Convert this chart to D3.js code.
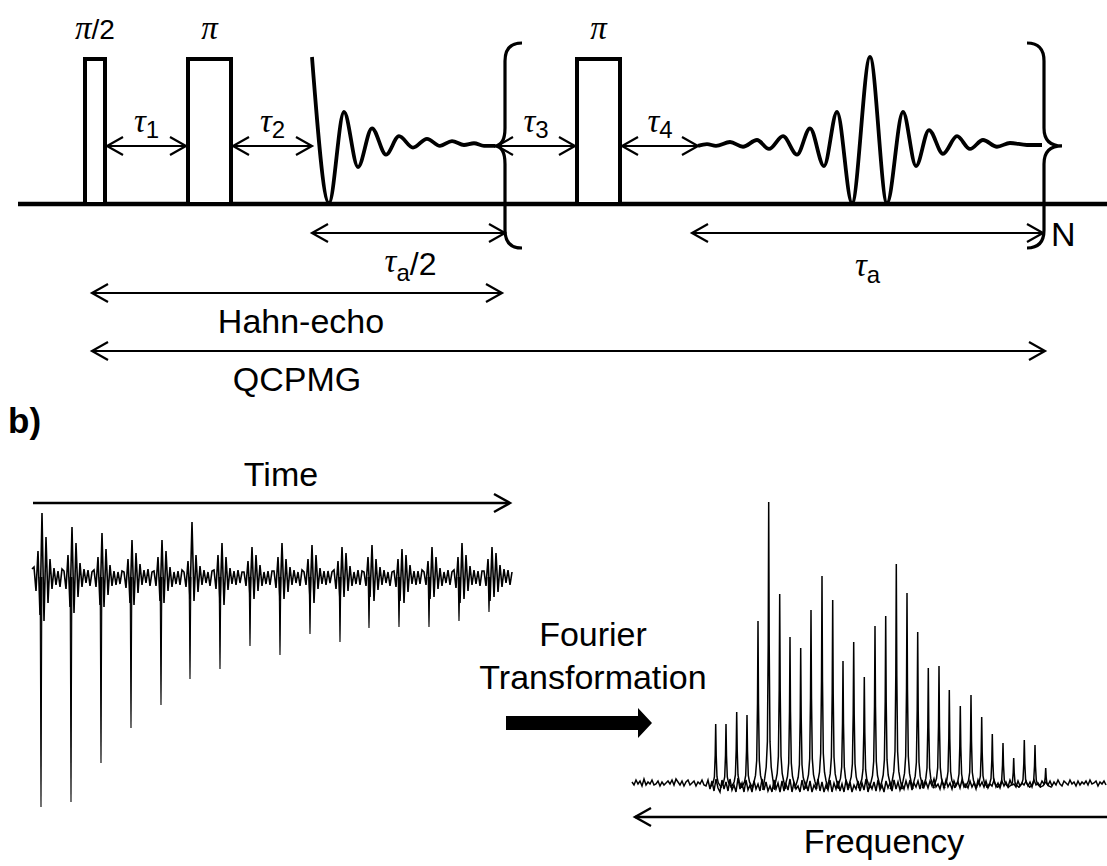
<!DOCTYPE html>
<html>
<head>
<meta charset="utf-8">
<script src="https://cdn.jsdelivr.net/npm/d3@7"></script>
<style>
  body { margin: 0; background: #fff; }
  text { font-family: "Liberation Sans", Arial, sans-serif; fill: #000; }
  .greek { font-family: "Liberation Serif", "Times New Roman", serif; font-style: italic; }
</style>
</head>
<body>
<div id="chart"></div>
<script>
const width = 1107, height = 866;

// ---- a) pulse sequence (time in figure units) ----
const pulseNames = ["π", "π", "π"];
const pulseSuffix = ["/2", "", ""];
const pulseOn = [85, 188, 577];
const pulseOff = [105, 231, 620];

const delayNames = ["1", "2", "3", "4"];
const delayFrom = [107, 233, 497, 622];
const delayTo = [186, 312, 575, 698];

// FID after the first pi pulse: extrema (time, amplitude)
const fidTime = [312, 329, 344, 358, 372, 386, 399, 413, 427, 440, 452, 464, 474, 484, 495];
const fidAmp = [1.0, -0.66, 0.375, -0.25, 0.19, -0.11, 0.10, -0.03, 0.07, -0.01, 0.045, 0.0, 0.02, -0.01, -0.01];

// echo inside the repeated block
const echoTime = [698, 707, 716, 730, 743, 757, 769, 783, 797, 810, 824, 837, 852, 870, 887, 903, 916, 929, 943, 957, 970, 983, 997, 1010, 1027, 1042];
const echoAmp = [-0.01, 0.01, -0.01, 0.034, -0.02, 0.057, -0.045, 0.10, -0.11, 0.19, -0.24, 0.375, -0.66, 1.0, -0.66, 0.375, -0.24, 0.17, -0.10, 0.10, -0.045, 0.057, -0.02, 0.023, 0.0, 0.0];

const spanNames = ["a/2", "a", "Hahn-echo", "QCPMG"];
const spanFrom = [312, 692, 92, 92];
const spanTo = [505, 1043, 502, 1045];

// ---- b) QCPMG time signal ----
const echoPeakTime = [9, 39, 69, 99, 129, 158, 188, 218, 248, 278, 308, 337, 367, 397, 427, 457];
const echoPeakDepth = [-230, -225, -186, -151, -128, -102, -92, -69, -78, -57, -65, -51, -50, -50, -44, -35];
const timeNoise = [
  8, 10, -14, 26, -38, 64, -44, 40, -26, 18, -12, 9, -8, 6, -10,
  8, 6, -12, 22, -30, 50, -36, 34, -20, 14, -10, 8, -6, 7, -9,
  5, 7, -10, 20, -28, 44, -30, 28, -18, 12, -9, 6, -8, 5, -7,
  6, 5, -11, 18, -26, 37, -28, 24, -16, 13, -8, 7, -6, 8, -9,
  5, 6, -9, 20, -24, 37, -26, 26, -14, 10, -10, 5, -7, 6, -8,
  7, 5, -10, 16, -22, 55, -24, 22, -15, 11, -8, 7, -6, 5, -9,
  6, 7, -12, 22, -26, 34, -28, 20, -13, 9, -7, 6, -8, 7, -6,
  5, 5, -9, 16, -20, 30, -22, 22, -14, 12, -9, 5, -7, 6, -8,
  6, 6, -11, 20, -24, 34, -22, 18, -15, 10, -8, 7, -6, 5, -9,
  7, 5, -8, 18, -22, 32, -26, 22, -12, 9, -7, 6, -8, 6, -6,
  5, 7, -12, 16, -24, 30, -20, 24, -14, 11, -9, 5, -7, 7, -8,
  6, 5, -9, 20, -20, 32, -24, 18, -13, 10, -8, 7, -6, 5, -9,
  5, 6, -10, 18, -24, 28, -26, 22, -15, 12, -7, 6, -8, 6, -7,
  7, 5, -8, 16, -22, 30, -20, 20, -12, 9, -9, 5, -6, 7, -8,
  5, 7, -11, 20, -26, 34, -22, 22, -14, 11, -8, 7, -7, 6, -9,
  6, 6, -9, 18, -24, 30, -20, 24, -15, 12, -10, 8, -6, 7, -8,
  5
];

// ---- b) spectrum (frequency offset, reversed axis) ----
const peakFreq = [391.3, 381, 370.3, 360, 349, 338.3, 327.3, 317, 306.3, 296, 285, 274.3, 264, 253.3, 242.7, 232,
  221.3, 210.7, 200, 189.3, 178.7, 168, 157.7, 146.7, 136, 125.3, 114.7, 104, 93.3, 82.7, 72, 61.3];
const peakHeight = [63, 63, 75, 72, 166, 285, 193, 150, 139, 177, 211, 187, 126, 145, 110, 161,
  171, 223, 194, 155, 119, 121, 97, 81, 92, 70, 53, 44, 29, 47, 42, 19];
const specNoise = [
  1, -2, 3, -1, 2, -3, 4, -2, 1, -1, 3, -2, -1, 2, -3, 1, -2, 0, 2, -1,
  3, -2, 4, 1, -2, 2, -3, 1, 3, -2, 0, 2, -3, 1, -1, 3, -2,
  -3, 3, -6, 2, -8, 4, -5, -9, 3, -6,
  1, -8, 4, -7, -2, -9, 5, -6, 0, -9,
  3, -7, -2, -9, 2, -6, -1, -8, 4, -7,
  1, -8, -3, -9, 3, -6, 0, -9, 2, -8,
  -1, -7, 4, -9, 1, -6, -3, -9, 3, -7,
  0, -8, 2, -9, -2, -6, 4, -8, 1, -9,
  -2, -7, 3, -9, 0, -6, 2, -8, -1, -9,
  3, -7, 1, -9, -2, -6, 2, -8, 0, -7,
  4, -9, -1, -6, 1, -8, 3, -7, -2, -9,
  2, -5, 0, -8, 3, -6, 1, -7, -1, -6,
  2, -5, 3, -7, 0, -4, 2, -6, 3, -4,
  1, -5, 2, -3, 4, -4, -1, -6, 2, -5,
  3, -4, 0, -6, 2, -3, 1, -5, 3, -4,
  -1, -5, 2, -4, 0, -6, 3, -3, 1, -4,
  2, -5, -1, -3, 3, -4, 0, -5, 2, -3,
  1, -4, 3, -2, -1, -4, 2, -3, 0, -2,
  2, -3, 1, -4, 3, -2, 0, -3, 2, -1,
  1, -2,
  2, -3, 1, -2, 3, -1, -3, 2, 0, -2, 3, -1, 1, -3, 2, -2, 1, -1, 2, -2,
  3, -1, 0, 2, -3, 1, -1, 2, -2
];

const svg = d3.select("#chart").append("svg")
  .attr("width", width)
  .attr("height", height);

// scales
const seqX = d3.scaleLinear().domain([0, 1107]).range([0, 1107]);
const seqY = d3.scaleLinear().domain([-1, 1]).range([233, 57]);
const seqBase = 204;

const timeX = d3.scaleLinear().domain([0, 480]).range([32, 512]);
const timeY = d3.scaleLinear().domain([-230, 230]).range([807, 347]);

const freqX = d3.scaleLinear().domain([475, 0]).range([632, 1107]);
const freqY = d3.scaleLinear().domain([0, 300]).range([783, 483]);

// arrow helpers
function head(g, x, y, dir, len, half, sw) {
  g.append("path")
    .attr("d", `M${x - dir * len},${y - half}L${x},${y}L${x - dir * len},${y + half}`)
    .attr("fill", "none").attr("stroke", "#000")
    .attr("stroke-width", sw).attr("stroke-linejoin", "miter");
}
// heads: "both", "end" (right) or "start" (left)
function hArrow(g, x1, x2, y, heads, sw = 2.2) {
  g.append("line")
    .attr("x1", x1).attr("x2", x2).attr("y1", y).attr("y2", y)
    .attr("stroke", "#000").attr("stroke-width", sw);
  if (heads !== "start") head(g, x2, y, 1, 16, 9, sw);
  if (heads !== "end") head(g, x1, y, -1, 16, 9, sw);
}

// ---------- a) ----------
const seq = svg.append("g");

seq.append("line")
  .attr("x1", 18).attr("x2", width)
  .attr("y1", seqBase).attr("y2", seqBase)
  .attr("stroke", "#000").attr("stroke-width", 4.5);

seq.selectAll("rect.pulse")
  .data(pulseOn)
  .join("rect")
  .attr("class", "pulse")
  .attr("x", d => seqX(d))
  .attr("width", (d, i) => seqX(pulseOff[i]) - seqX(d))
  .attr("y", 59)
  .attr("height", seqBase - 59)
  .attr("fill", "#fff").attr("stroke", "#000").attr("stroke-width", 4);

const pulseLab = seq.selectAll("text.plab")
  .data(pulseOn)
  .join("text")
  .attr("class", "plab")
  .attr("x", (d, i) => seqX((d + pulseOff[i]) / 2))
  .attr("y", 39)
  .attr("text-anchor", "middle");
pulseLab.append("tspan").attr("class", "greek").attr("font-size", 33).text((d, i) => pulseNames[i]);
pulseLab.append("tspan").attr("font-size", 28).text((d, i) => pulseSuffix[i]);

// delays
delayFrom.forEach((d, i) => {
  hArrow(seq, seqX(d), seqX(delayTo[i]), 146, "both");
  const t = seq.append("text")
    .attr("x", seqX((d + delayTo[i]) / 2))
    .attr("y", 132)
    .attr("text-anchor", "middle");
  t.append("tspan").attr("class", "greek").attr("font-size", 33).text("τ");
  t.append("tspan").attr("font-size", 24).attr("dy", 6).text(delayNames[i]);
});

// signals
const sigLine = d3.line()
  .x(d => seqX(d[0]))
  .y(d => seqY(d[1]))
  .curve(d3.curveMonotoneX);

seq.append("path")
  .attr("d", sigLine(fidTime.map((t, i) => [t, fidAmp[i]])))
  .attr("fill", "none").attr("stroke", "#000")
  .attr("stroke-width", 3.8).attr("stroke-linejoin", "round");

seq.append("path")
  .attr("d", sigLine(echoTime.map((t, i) => [t, echoAmp[i]])))
  .attr("fill", "none").attr("stroke", "#000")
  .attr("stroke-width", 3.8).attr("stroke-linejoin", "round");

// braces around the repeated block
function brace(g, xv, xTip, xHook) {
  const yTop = 43, yBot = 248, yMid = seqY(-0.01);
  g.append("path")
    .attr("d", `M${xHook},${yTop}Q${xv},${yTop} ${xv},${yTop + 18}` +
      `L${xv},${yMid - 18}Q${xv},${yMid} ${xTip},${yMid}` +
      `Q${xv},${yMid} ${xv},${yMid + 18}` +
      `L${xv},${yBot - 18}Q${xv},${yBot} ${xHook},${yBot}`)
    .attr("fill", "none").attr("stroke", "#000").attr("stroke-width", 3.2);
}
brace(seq, seqX(505), seqX(494), seqX(522));
brace(seq, seqX(1044), seqX(1062), seqX(1027));

seq.append("text")
  .attr("x", seqX(1051)).attr("y", 246)
  .attr("font-size", 34)
  .text("N");

// spans
hArrow(seq, seqX(spanFrom[0]), seqX(spanTo[0]), 233, "both");
hArrow(seq, seqX(spanFrom[1]), seqX(spanTo[1]), 233, "both");
hArrow(seq, seqX(spanFrom[2]), seqX(spanTo[2]), 293, "both");
hArrow(seq, seqX(spanFrom[3]), seqX(spanTo[3]), 351, "both");

const halfLab = seq.append("text")
  .attr("x", seqX((spanFrom[0] + spanTo[0]) / 2) + 2).attr("y", 272)
  .attr("text-anchor", "middle");
halfLab.append("tspan").attr("class", "greek").attr("font-size", 33).text("τ");
halfLab.append("tspan").attr("font-size", 24).attr("dy", 9).text(spanNames[0].charAt(0));
halfLab.append("tspan").attr("font-size", 32).attr("dy", -6).text(spanNames[0].slice(1));

const fullLab = seq.append("text")
  .attr("x", seqX((spanFrom[1] + spanTo[1]) / 2)).attr("y", 276)
  .attr("text-anchor", "middle");
fullLab.append("tspan").attr("class", "greek").attr("font-size", 33).text("τ");
fullLab.append("tspan").attr("font-size", 24).attr("dy", 7).text(spanNames[1]);

seq.append("text")
  .attr("x", seqX((spanFrom[2] + spanTo[2]) / 2) + 4).attr("y", 333)
  .attr("text-anchor", "middle").attr("font-size", 34)
  .text(spanNames[2]);
seq.append("text")
  .attr("x", seqX((spanFrom[2] + spanTo[2]) / 2)).attr("y", 391)
  .attr("text-anchor", "middle").attr("font-size", 34)
  .text(spanNames[3]);

// ---------- b) ----------
const low = svg.append("g");

low.append("text")
  .attr("x", 8).attr("y", 433)
  .attr("font-size", 35).attr("font-weight", "bold")
  .text("b)");

low.append("text")
  .attr("x", 281).attr("y", 486)
  .attr("text-anchor", "middle").attr("font-size", 34)
  .text("Time");
hArrow(low, timeX(1), timeX(478), 503, "end", 2.4);

const traceLine = d3.line()
  .x(d => timeX(d[0]))
  .y(d => timeY(d[1]));

low.append("path")
  .attr("d", traceLine(timeNoise.map((v, i) => [i * 2, v])))
  .attr("fill", "none").attr("stroke", "#000").attr("stroke-width", 1.6);

low.selectAll("path.echo")
  .data(echoPeakTime)
  .join("path")
  .attr("class", "echo")
  .attr("d", (t, i) => traceLine([[t - 0.9, 0], [t, echoPeakDepth[i]], [t + 0.9, 0]]))
  .attr("fill", "#000").attr("stroke", "#000").attr("stroke-width", 1.1);

// Fourier transformation
low.append("text")
  .attr("x", 593).attr("y", 646)
  .attr("text-anchor", "middle").attr("font-size", 34)
  .text("Fourier");
low.append("text")
  .attr("x", 593).attr("y", 689)
  .attr("text-anchor", "middle").attr("font-size", 34)
  .text("Transformation");
low.append("path")
  .attr("d", "M506,716L638,716L638,708L652,723L638,738L638,730L506,730Z")
  .attr("fill", "#000");

// spectrum
const specLine = d3.line()
  .x(d => freqX(d[0]))
  .y(d => freqY(d[1]));

low.append("path")
  .attr("d", specLine(specNoise.map((v, i) => [475 - i * 2, v])))
  .attr("fill", "none").attr("stroke", "#000").attr("stroke-width", 1.5);

const peakOffsets = [-6, -4, -2.5, -1.3, -0.5, 0, 0.5, 1.3, 2.5, 4, 6];
const peakShape = [-0.01, 0.03, 0.07, 0.16, 0.5, 1, 0.5, 0.16, 0.07, 0.03, -0.01];
low.selectAll("path.peak")
  .data(peakFreq)
  .join("path")
  .attr("class", "peak")
  .attr("d", (f, i) => specLine(peakOffsets.map((o, k) => [f + o, peakHeight[i] * peakShape[k] - 4])))
  .attr("fill", "none").attr("stroke", "#000").attr("stroke-width", 1.5);

hArrow(low, freqX(472), freqX(0), 817, "start", 2.4);

low.append("text")
  .attr("x", 884).attr("y", 853)
  .attr("text-anchor", "middle").attr("font-size", 34)
  .text("Frequency");
</script>
</body>
</html>
